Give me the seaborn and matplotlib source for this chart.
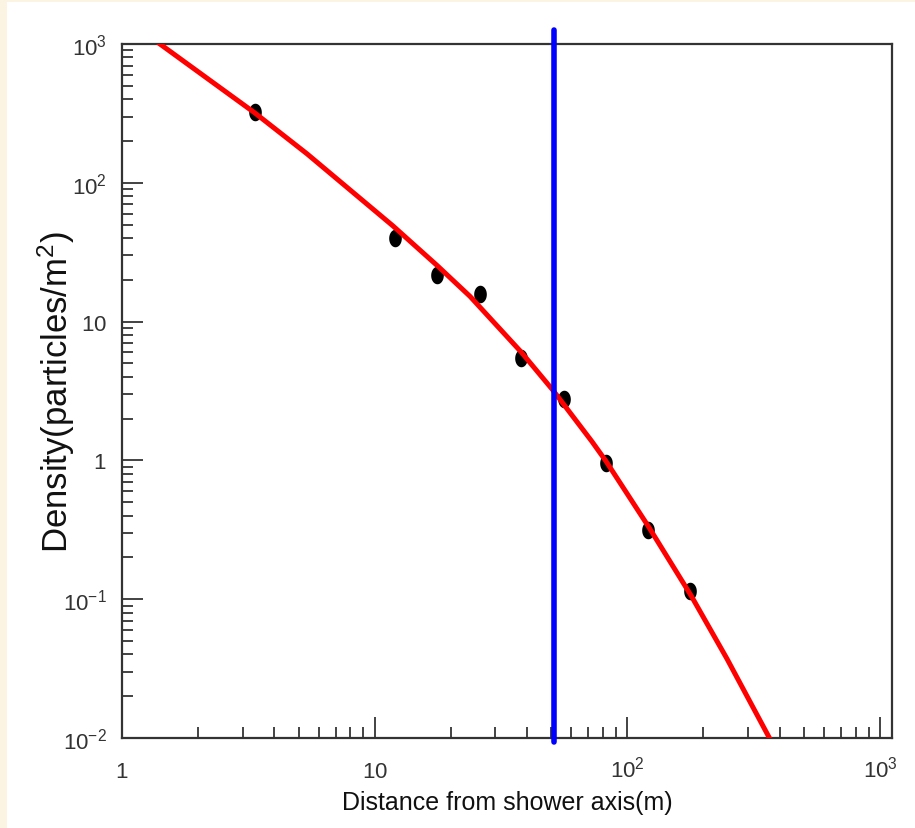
import numpy as np
import pandas as pd
import matplotlib
matplotlib.use("Agg")
import matplotlib.pyplot as plt
from matplotlib.path import Path
from matplotlib.patches import Rectangle
import seaborn as sns

# ---- data ----
point_distance = [3.36, 12.0, 17.6, 26.1, 37.9, 56.1, 82.2, 120.6, 177.0]
point_density = [324, 40, 21.7, 15.8, 5.47, 2.77, 0.96, 0.315, 0.115]

fit_distance = [1.413, 3.357, 5.395, 11.80, 17.64, 23.82, 37.93, 50.77, 72.44,
                82.22, 120.6, 178.5, 247.7, 363.1]
fit_density = [1000, 318.4, 161.8, 48.98, 25.41, 15.21, 6.053, 3.199, 1.365,
               0.9886, 0.3381, 0.1064, 0.03724, 0.01016]

cut_distance = [51.0]

x_ticks = [1, 10, 100, 1000]
x_tick_labels = [r"$1$", r"$10$", r"$10^{2}$", r"$10^{3}$"]
y_ticks = [0.01, 0.1, 1, 10, 100, 1000]
y_tick_labels = [r"$10^{-2}$", r"$10^{-1}$", r"$1$", r"$10$", r"$10^{2}$", r"$10^{3}$"]

points = pd.DataFrame({"r": point_distance, "rho": point_density})
fit = pd.DataFrame({"r": fit_distance, "rho": fit_density})

sns.set_theme(style="white")
font = ["Liberation Sans", "DejaVu Sans"]
plt.rcParams["font.family"] = font
plt.rcParams["mathtext.fontset"] = "custom"
plt.rcParams["mathtext.rm"] = "Liberation Sans"
plt.rcParams["mathtext.it"] = "Liberation Sans"
plt.rcParams["mathtext.default"] = "regular"

fig = plt.figure(figsize=(9.15, 8.29), dpi=100, facecolor="#fcf4e3")
bg = Rectangle((7 / 915, 0), 1, 1 - 3 / 829, transform=fig.transFigure,
               facecolor="white", edgecolor="none", zorder=-10)
fig.add_artist(bg)
ax = fig.add_axes([122 / 915, 1 - 739 / 829, (892 - 122) / 915, (739 - 45) / 829])
ax.set_facecolor("white")

ax.set_xscale("log")
ax.set_yscale("log")
ax.set_xlim(1, 10 ** 3.047)
ax.set_ylim(0.01, 1000)

# ellipse marker (taller than wide)
t = np.linspace(0, 2 * np.pi, 40)
ell = Path(np.column_stack([0.72 * np.cos(t), np.sin(t)]), closed=True)

sns.lineplot(data=fit, x="r", y="rho", ax=ax, color="#ff0000", linewidth=3.6,
             solid_capstyle="projecting", solid_joinstyle="round", zorder=3)
sns.scatterplot(data=points, x="r", y="rho", ax=ax, marker=ell, s=160,
                color="black", edgecolor="black", linewidth=0, zorder=2)
for c in cut_distance:
    ax.axvline(c, ymin=-0.006, ymax=1.020, color="#0000ff", linewidth=4.0,
               clip_on=False, zorder=4)

ax.set_xticks(x_ticks)
ax.set_xticklabels(x_tick_labels)
ax.set_yticks(y_ticks)
ax.set_yticklabels(y_tick_labels)

ax.tick_params(axis="both", which="major", direction="in", length=15, width=1.2,
               color="#222222", labelsize=16, labelcolor="#333333")
ax.tick_params(axis="both", which="minor", direction="in", length=8, width=1.2,
               color="#222222")
ax.tick_params(axis="x", which="major", pad=28)
ax.tick_params(axis="y", which="major", pad=11)
ax.tick_params(which="both", bottom=True, left=True, top=False, right=False)
for lab in ax.get_xticklabels():
    lab.set_verticalalignment("baseline")
ax.xaxis.set_minor_locator(matplotlib.ticker.LogLocator(base=10, subs=np.arange(2, 10), numticks=20))
ax.yaxis.set_minor_locator(matplotlib.ticker.LogLocator(base=10, subs=np.arange(2, 10), numticks=20))
ax.xaxis.set_minor_formatter(matplotlib.ticker.NullFormatter())
ax.yaxis.set_minor_formatter(matplotlib.ticker.NullFormatter())

for s in ax.spines.values():
    s.set_visible(True)
    s.set_linewidth(1.6)
    s.set_color("#333333")

ax.set_xlabel("Distance from shower axis(m)", fontsize=18, color="#111111")
ax.set_ylabel(r"Density(particles/m$^{2}$)", fontsize=25, color="#111111")
ax.xaxis.set_label_coords(0.5, -0.075)
ax.yaxis.set_label_coords(-0.058, 0.5)

fig.savefig("out.png", dpi=100, facecolor=fig.get_facecolor())
